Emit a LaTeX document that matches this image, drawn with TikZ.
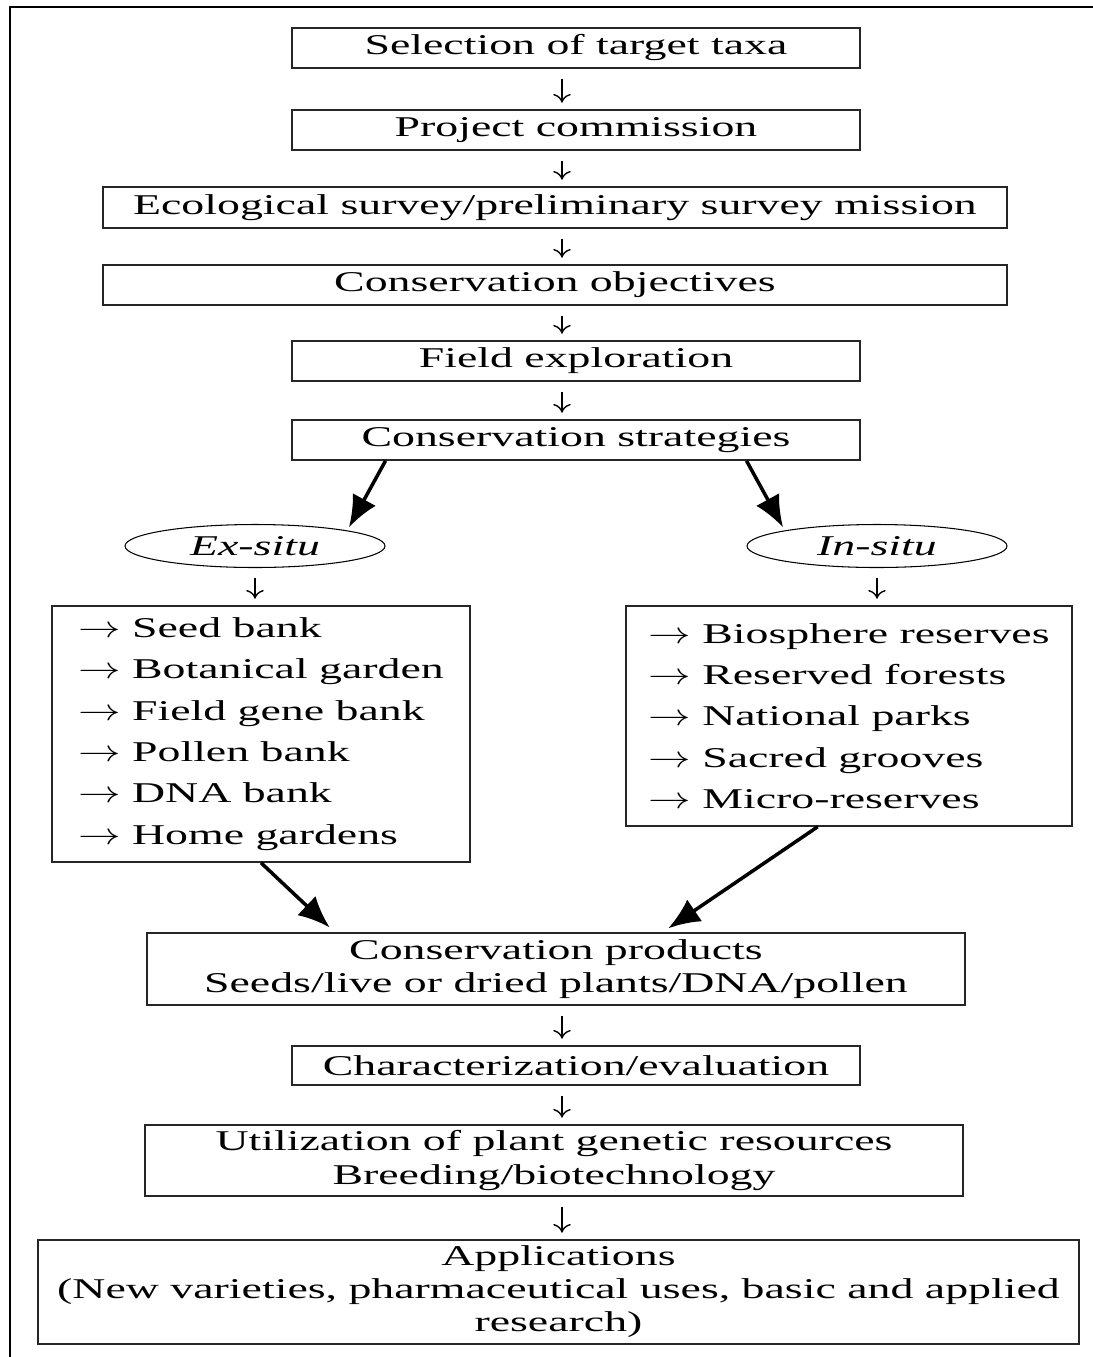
\documentclass[tikz,border=0pt]{standalone}
\usepackage{fontspec}
\setmainfont{Liberation Serif}[FakeStretch=1.6]
\usepackage{xcolor}
\usepackage{tikz}
\usetikzlibrary{calc,shapes,positioning}
\usetikzlibrary{arrows.meta}
\usepackage{graphicx}
\newcommand{\itemarr}{\scalebox{1.4}[1]{$\rightarrow$}~}

\begin{document}
\begin{tikzpicture}[x=0.02cm, y=-0.02cm]
      \tikzstyle{bnode} = [draw=black!85, line width=0.9pt, rectangle, inner sep=0pt, minimum height=0.8cm, align=center, font=\fontsize{16.3}{18.8}\selectfont]
      \tikzstyle{lnode} = [draw=black!85, line width=0.9pt, rectangle, inner sep=0pt, align=left, font=\fontsize{16.3}{23.5}\selectfont]
      \tikzstyle{snode} = [draw, ellipse, line width=0.6pt, minimum width=5.2cm, minimum height=0.86cm, inner sep=0pt, font=\fontsize{16.3}{18.8}\selectfont\itshape]
      \tikzstyle{sarrow} = [-{To[length=5pt,width=10pt]}, line width=0.8pt, shorten <=0.2cm, shorten >=0.13cm]
      \tikzstyle{barrow} = [-{Latex[length=18pt,width=15pt]}, line width=2pt]

      \useasboundingbox (0,0) rectangle (1093,1357);
      % open frame
      \draw[line width=1.5pt] (10,1357) -- (10,7) -- (1093,7);

      \coordinate (axis) at (562,0);

      \node[bnode, minimum width=11.36cm] (sel) at (576,48) {Selection of target taxa};
      \node[bnode, minimum width=11.36cm] (proj) at (576,130) {Project commission};
      \node[bnode, minimum width=18.08cm, minimum height=0.82cm] (eco) at (555,207.5) {Ecological survey/preliminary survey mission};
      \node[bnode, minimum width=18.08cm] (obj) at (555,285) {Conservation objectives};
      \node[bnode, minimum width=11.36cm] (field) at (576,361) {Field exploration};
      \node[bnode, minimum width=11.36cm] (strat) at (576,440) {Conservation strategies};

      \node[snode] (exs) at (255,546) {Ex-situ};
      \node[snode] (ins) at (877,546) {In-situ};

      \node[lnode, minimum width=8.36cm, minimum height=5.12cm] (exl) at (261,734)
        {\itemarr Seed bank\\ \itemarr Botanical garden\\ \itemarr Field gene bank\\
         \itemarr Pollen bank\\ \itemarr DNA bank\\ \itemarr Home gardens};
      \node[lnode, minimum width=8.92cm, minimum height=4.4cm] (inl) at (849,716)
        {\itemarr Biosphere reserves\\ \itemarr Reserved forests\\ \itemarr National parks\\
         \itemarr Sacred grooves\\ \itemarr Micro-reserves};

      \node[bnode, minimum width=16.36cm, minimum height=1.44cm] (prod) at (556,969)
        {Conservation products\\Seeds/live or dried plants/DNA/pollen};
      \node[bnode, minimum width=11.36cm, minimum height=0.78cm] (char) at (576,1065.5) {Characterization/evaluation};
      \node[bnode, minimum width=16.36cm, minimum height=1.42cm] (util) at (554,1160.5)
        {Utilization of plant genetic resources\\Breeding/biotechnology};
      \node[bnode, minimum width=20.82cm, minimum height=2.08cm] (app) at (558.5,1292)
        {Applications\\(New varieties, pharmaceutical uses, basic and applied\\research)};

      % connections
      \draw[sarrow] (sel.south -| axis) -- (proj.north -| axis);
      \draw[sarrow] (proj.south -| axis) -- (eco.north -| axis);
      \draw[sarrow] (eco.south -| axis) -- (obj.north -| axis);
      \draw[sarrow] (obj.south -| axis) -- (field.north -| axis);
      \draw[sarrow] (field.south -| axis) -- (strat.north -| axis);
      \draw[barrow, shorten >=2pt] (strat.south -| exs.east) -- (exs.north east);
      \draw[barrow, shorten >=2pt] (strat.south -| ins.west) -- (ins.north west);
      \draw[sarrow] (exs.south) -- (exl.north -| exs.south);
      \draw[sarrow] (ins.south) -- (inl.north -| ins.south);
      \draw[barrow, shorten >=4pt] (exl.south) -- ($(prod.north west)!0.23!(prod.north east)$);
      \draw[barrow, shorten >=4pt] ($(inl.south west)!0.43!(inl.south east)$) -- ($(prod.north west)!0.63!(prod.north east)$);
      \draw[sarrow] (prod.south -| axis) -- (char.north -| axis);
      \draw[sarrow] (char.south -| axis) -- (util.north -| axis);
      \draw[sarrow] (util.south -| axis) -- (app.north -| axis);
\end{tikzpicture}
\end{document}
